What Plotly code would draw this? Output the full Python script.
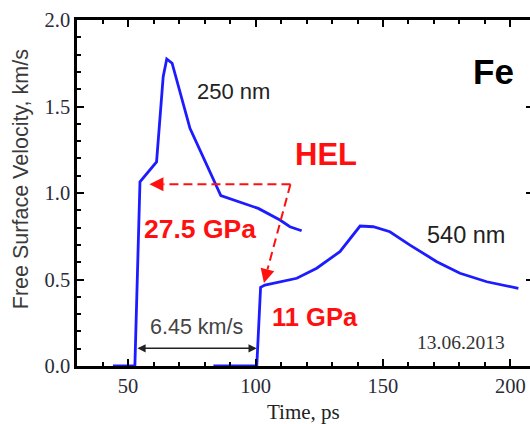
import plotly.graph_objects as go

# Free surface velocity profiles of Fe films (time in ps, velocity in km/s)
t_250 = [44.1, 52.7, 54.7, 61.2, 63.8, 65.2, 67.3, 74.3, 86.4, 101.1, 109.6, 113.5, 118.1]
v_250 = [0.0, 0.0, 1.065, 1.18, 1.672, 1.775, 1.75, 1.374, 0.985, 0.911, 0.844, 0.805, 0.782]

t_540 = [83.5, 100.5, 102.0, 103.7, 116.2, 124.0, 133.1, 141.0, 146.2, 152.7, 160.6,
         171.1, 180.2, 190.7, 203.1]
v_540 = [0.0, 0.0, 0.455, 0.468, 0.507, 0.565, 0.661, 0.809, 0.805, 0.776, 0.699,
         0.603, 0.536, 0.487, 0.449]

# HEL markers: common origin, tips on the two curves
hel_origin = (113.7, 1.05)
hel_tip_250 = (58.4, 1.05)
hel_base_250 = (63.9, 1.05)
hel_tip_540 = (103.3, 0.48)
hel_base_540 = (104.7, 0.558)

# Arrival-time span used for the wave speed
span_t = [53.1, 100.5]
span_v = 0.102

x_range = [30, 207.65]
y_range = [0, 2.0]

BLUE = "#1c1cff"
RED = "#ff1010"
SANS = "Liberation Sans, Arial, sans-serif"
SERIF = "Liberation Serif, Times New Roman, serif"
TICK_COLOR = "#2a2a38"

fig = go.Figure()

fig.add_trace(go.Scatter(x=t_250, y=v_250, mode="lines",
                         line=dict(color=BLUE, width=2.8), showlegend=False,
                         hoverinfo="skip"))
fig.add_trace(go.Scatter(x=t_540, y=v_540, mode="lines",
                         line=dict(color=BLUE, width=2.8), showlegend=False,
                         hoverinfo="skip"))

# dashed guide lines for the HEL arrows
for base in (hel_base_250, hel_base_540):
    fig.add_trace(go.Scatter(x=[hel_origin[0], base[0]], y=[hel_origin[1], base[1]],
                             mode="lines", line=dict(color=RED, width=2, dash="9px,5px"),
                             showlegend=False, hoverinfo="skip"))

# invisible trace to carry the mirrored right-hand ticks
fig.add_trace(go.Scatter(x=[x_range[0]], y=[0], yaxis="y2", mode="markers",
                         marker=dict(opacity=0), showlegend=False, hoverinfo="skip"))

annotations = []

# arrowheads of the HEL arrows
for tip, base in ((hel_tip_250, hel_base_250), (hel_tip_540, hel_base_540)):
    annotations.append(dict(x=tip[0], y=tip[1], ax=base[0], ay=base[1],
                            xref="x", yref="y", axref="x", ayref="y",
                            text="", showarrow=True, arrowhead=2, arrowsize=1.4,
                            arrowwidth=2, arrowcolor=RED, standoff=0))

# double-headed span arrow
annotations.append(dict(x=span_t[1], y=span_v, ax=span_t[0], ay=span_v,
                        xref="x", yref="y", axref="x", ayref="y",
                        text="", showarrow=True, arrowhead=2, arrowside="end+start",
                        arrowsize=1.1, arrowwidth=1.5, arrowcolor="#222222",
                        standoff=0, startstandoff=0))

def label(x, y, text, size, color, family=SANS, bold=False):
    t = f"<b>{text}</b>" if bold else text
    annotations.append(dict(x=x, y=y, xref="x", yref="y", text=t, showarrow=False,
                            xanchor="center", yanchor="middle",
                            font=dict(family=family, size=size, color=color)))

label(127.8, 1.22, "HEL", 31, RED, bold=True)
label(78.2, 0.792, "27.5 GPa", 26.5, RED, bold=True)
label(123.3, 0.283, "11 GPa", 25.5, RED, bold=True)
label(193.5, 1.70, "Fe", 35, "#000000", bold=True)
label(91.2, 1.585, "250 nm", 22, "#222222")
label(182.4, 0.757, "540 nm", 23.5, "#222222")
label(76.9, 0.225, "6.45 km/s", 21.5, "#444444")
label(180.4, 0.133, "13.06.2013", 19.5, "#333333", family=SERIF)

# axis titles
annotations.append(dict(x=-0.1236, y=0.54, xref="paper", yref="paper",
                        text="Free Surface Velocity, km/s", textangle=-90,
                        showarrow=False, xanchor="center", yanchor="middle",
                        font=dict(family=SANS, size=21.5, color="#3a3a3a")))
annotations.append(dict(x=0.5, y=-0.133, xref="paper", yref="paper",
                        text="Time, ps", showarrow=False,
                        xanchor="center", yanchor="middle",
                        font=dict(family=SERIF, size=21, color="#222222")))

fig.update_layout(
    width=530, height=424,
    margin=dict(l=77, r=0, t=20, b=58),
    paper_bgcolor="white", plot_bgcolor="white",
    annotations=annotations,
    xaxis=dict(range=x_range, showgrid=False, zeroline=False,
               showline=True, linecolor="#000000", linewidth=2.5, mirror="ticks",
               ticks="inside", ticklen=7, tickwidth=2, tickcolor="#000000",
               tick0=0, dtick=50,
               minor=dict(ticks="inside", ticklen=4, tickwidth=2, tickcolor="#000000",
                          dtick=10, showgrid=False),
               tickfont=dict(family=SERIF, size=20.5, color=TICK_COLOR)),
    yaxis=dict(range=y_range, showgrid=False, zeroline=False,
               showline=True, linecolor="#000000", linewidth=2.5, mirror=False,
               ticks="inside", ticklen=7, tickwidth=2, tickcolor="#000000",
               tick0=0, dtick=0.5, tickformat=".1f",
               minor=dict(ticks="inside", ticklen=4, tickwidth=2, tickcolor="#000000",
                          dtick=0.1, showgrid=False),
               tickfont=dict(family=SERIF, size=20.5, color=TICK_COLOR)),
    yaxis2=dict(range=y_range, overlaying="y", side="right", showgrid=False,
                zeroline=False, showline=False, showticklabels=False,
                ticks="inside", ticklen=4, tickwidth=2, tickcolor="#000000",
                tick0=0, dtick=0.5),
)

fig.write_html("out.html")
